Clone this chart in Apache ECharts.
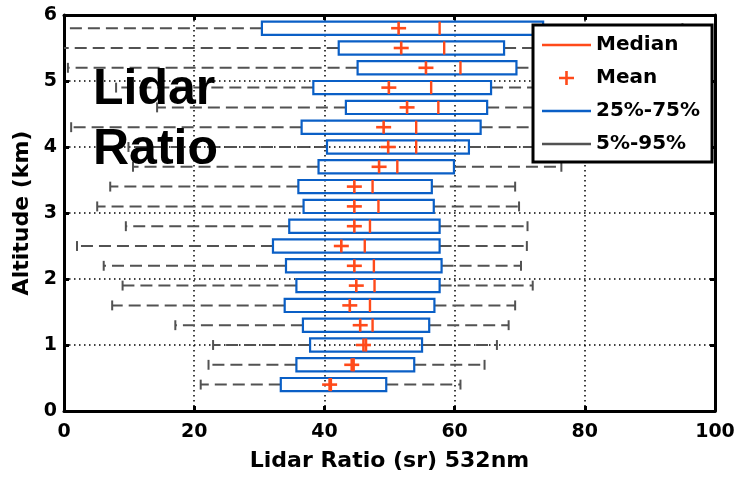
<!DOCTYPE html>
<html>
<head>
<meta charset="utf-8">
<script src="https://cdn.jsdelivr.net/npm/echarts@6/dist/echarts.min.js"></script>
<style>
  html, body { margin: 0; padding: 0; background: #fff; }
  #chart { width: 738px; height: 477px; }
</style>
</head>
<body>
<div id="chart"></div>
<script>
// Altitude bins (km) and lidar-ratio statistics (sr) per bin
const altitude = [0.4, 0.7, 1.0, 1.3, 1.6, 1.9, 2.2, 2.5, 2.8, 3.1, 3.4, 3.7, 4.0, 4.3, 4.6, 4.9, 5.2, 5.5, 5.8];
const p5     = [21.0, 22.2, 22.9, 17.1, 7.4, 9.0, 6.1, 2.0, 9.5, 5.1, 7.1, 10.6, 9.9, 1.1, 14.3, 8.0, 0.6, -2.0, -3.0];
const p25    = [33.3, 35.7, 37.8, 36.7, 33.9, 35.7, 34.1, 32.1, 34.6, 36.8, 36.0, 39.1, 40.4, 36.5, 43.3, 38.3, 45.1, 42.2, 30.4];
const median = [41.0, 44.5, 46.4, 47.4, 47.0, 47.7, 47.6, 46.2, 47.0, 48.3, 47.4, 51.2, 54.1, 54.1, 57.5, 56.4, 60.9, 58.4, 57.7];
const mean   = [40.8, 44.2, 46.0, 45.5, 43.9, 44.9, 44.6, 42.6, 44.6, 44.6, 44.6, 48.4, 49.8, 49.1, 52.7, 49.9, 55.6, 51.8, 51.4];
const p75    = [49.5, 53.8, 55.0, 56.1, 56.9, 57.7, 58.0, 57.7, 57.7, 56.8, 56.5, 59.9, 62.2, 64.0, 65.0, 65.6, 69.5, 67.6, 73.6];
const p95    = [60.9, 64.6, 66.5, 68.3, 69.3, 72.0, 70.2, 71.1, 71.2, 69.9, 69.3, 76.4, 80.0, 84.0, 86.0, 88.0, 90.0, 92.0, 95.0];

const xTicks = { min: 0, max: 100, interval: 20 };
const yTicks = { min: 0, max: 6, interval: 1 };

const RED = '#ff4a1a';
const BLUE = '#0a5fc6';
const GRAY = '#525252';
const AXIS_FONT = '"DejaVu Sans", sans-serif';
const BOX_H = 0.2;   // box thickness in km
const CAP_H = 0.15;  // whisker cap length in km

const chart = echarts.init(document.getElementById('chart'), null, { renderer: 'canvas' });

// Dashed 5%-95% whiskers with end caps, clipped to the plot area
function renderWhiskers(params, api) {
  const y = api.value(0);
  const cs = params.coordSys;
  const lo = api.coord([api.value(1), y]);
  const q1 = api.coord([api.value(2), y]);
  const q3 = api.coord([api.value(3), y]);
  const hi = api.coord([api.value(4), y]);
  const capH = api.size([0, CAP_H])[1];
  const dash = { stroke: GRAY, lineWidth: 2, lineDash: [12, 6] };
  const solid = { stroke: GRAY, lineWidth: 2 };
  const left = Math.max(lo[0], cs.x);
  const right = Math.min(hi[0], cs.x + cs.width);
  const kids = [
    { type: 'line', shape: { x1: q1[0], y1: q1[1], x2: left, y2: q1[1] }, style: dash },
    { type: 'line', shape: { x1: q3[0], y1: q3[1], x2: right, y2: q3[1] }, style: dash }
  ];
  if (lo[0] >= cs.x) kids.push({ type: 'line', shape: { x1: lo[0], y1: lo[1] - capH / 2, x2: lo[0], y2: lo[1] + capH / 2 }, style: solid });
  if (hi[0] <= cs.x + cs.width) kids.push({ type: 'line', shape: { x1: hi[0], y1: hi[1] - capH / 2, x2: hi[0], y2: hi[1] + capH / 2 }, style: solid });
  return { type: 'group', children: kids };
}

// 25%-75% interquartile boxes (outline only)
function renderBoxes(params, api) {
  const y = api.value(0);
  const a = api.coord([api.value(1), y]);
  const b = api.coord([api.value(2), y]);
  const h = api.size([0, BOX_H])[1];
  return {
    type: 'rect',
    shape: { x: a[0], y: a[1] - h / 2, width: b[0] - a[0], height: h },
    style: { fill: 'none', stroke: BLUE, lineWidth: 2.2 }
  };
}

// Median ticks across each box
function renderMedians(params, api) {
  const y = api.value(0);
  const p = api.coord([api.value(1), y]);
  const h = api.size([0, BOX_H])[1];
  return {
    type: 'line',
    shape: { x1: p[0], y1: p[1] - h / 2, x2: p[0], y2: p[1] + h / 2 },
    style: { stroke: RED, lineWidth: 2.4 }
  };
}

// Mean markers drawn as plus signs
function renderMeans(params, api) {
  const p = api.coord([api.value(1), api.value(0)]);
  const hw = 7.5, hh = 6.5;
  const st = { stroke: RED, lineWidth: 2.6 };
  return {
    type: 'group',
    children: [
      { type: 'line', shape: { x1: p[0] - hw, y1: p[1], x2: p[0] + hw, y2: p[1] }, style: st },
      { type: 'line', shape: { x1: p[0], y1: p[1] - hh, x2: p[0], y2: p[1] + hh }, style: st }
    ]
  };
}

const whiskerData = altitude.map((a, i) => [a, p5[i], p25[i], p75[i], p95[i]]);
const boxData = altitude.map((a, i) => [a, p25[i], p75[i]]);
const medianData = altitude.map((a, i) => [a, median[i]]);
const meanData = altitude.map((a, i) => [a, mean[i]]);

const axisLine = { show: true, onZero: false, lineStyle: { color: '#000', width: 3 } };
const axisTick = { show: true, inside: true, length: 5, lineStyle: { color: '#000', width: 3 } };
const labelStyle = { color: '#000', fontFamily: AXIS_FONT, fontWeight: 'bold', fontSize: 19 };
const gridLine = { show: true, lineStyle: { color: '#000', width: 1.5, type: [1.5, 3.5] } };
const nameStyle = { color: '#000', fontFamily: AXIS_FONT, fontWeight: 'bold', fontSize: 22 };

const LINE_ICON = 'path://M0,0H49V2.6H0Z';
const PLUS_ICON = 'path://M6.2,0H8.8V5.7H15V8.3H8.8V14H6.2V8.3H0V5.7H6.2Z';

chart.setOption({
  backgroundColor: '#fff',
  animation: false,
  grid: { left: 64, right: 23, top: 15, bottom: 63, containLabel: false },
  xAxis: [
    {
      type: 'value', position: 'bottom', ...xTicks,
      axisLine, axisTick,
      axisLabel: { ...labelStyle, margin: 12 },
      splitLine: gridLine,
      name: 'Lidar Ratio (sr) 532nm', nameLocation: 'middle', nameGap: 39, nameTextStyle: nameStyle
    },
    {
      type: 'value', position: 'top', ...xTicks,
      axisLine, axisTick, axisLabel: { show: false }, splitLine: { show: false }
    }
  ],
  yAxis: [
    {
      type: 'value', position: 'left', ...yTicks,
      axisLine, axisTick,
      axisLabel: { ...labelStyle, margin: 7 },
      splitLine: gridLine,
      name: 'Altitude (km)', nameLocation: 'middle', nameGap: 24, nameRotate: 90, nameTextStyle: nameStyle
    },
    {
      type: 'value', position: 'right', ...yTicks,
      axisLine, axisTick, axisLabel: { show: false }, splitLine: { show: false }
    }
  ],
  legend: {
    show: true,
    orient: 'vertical',
    left: 533, top: 25,
    padding: [10, 12, 8, 9],
    itemWidth: 49, itemHeight: 14, itemGap: 13,
    backgroundColor: '#fff',
    borderColor: '#000', borderWidth: 3,
    selectedMode: false,
    textStyle: { color: '#000', fontFamily: AXIS_FONT, fontWeight: 'bold', fontSize: 20 },
    data: [
      { name: 'Median', icon: LINE_ICON, itemStyle: { color: RED } },
      { name: 'Mean', icon: PLUS_ICON, itemStyle: { color: RED } },
      { name: '25%-75%', icon: LINE_ICON, itemStyle: { color: BLUE } },
      { name: '5%-95%', icon: LINE_ICON, itemStyle: { color: GRAY } }
    ]
  },
  graphic: [
    { type: 'text', left: 93, top: 65, z: 10, style: { text: 'Lidar', font: 'bold 50px "Liberation Sans", Arial, sans-serif', fill: '#000' } },
    { type: 'text', left: 93, top: 125, z: 10, style: { text: 'Ratio', font: 'bold 50px "Liberation Sans", Arial, sans-serif', fill: '#000' } }
  ],
  series: [
    {
      name: '5%-95%', type: 'custom', renderItem: renderWhiskers, data: whiskerData,
      encode: { y: 0, x: [1, 2, 3, 4] }, itemStyle: { color: GRAY }, z: 2
    },
    {
      name: '25%-75%', type: 'custom', renderItem: renderBoxes, data: boxData,
      encode: { y: 0, x: [1, 2] }, itemStyle: { color: BLUE }, z: 3
    },
    {
      name: 'Median', type: 'custom', renderItem: renderMedians, data: medianData,
      encode: { y: 0, x: 1 }, itemStyle: { color: RED }, z: 4
    },
    {
      name: 'Mean', type: 'custom', renderItem: renderMeans, data: meanData,
      encode: { y: 0, x: 1 }, itemStyle: { color: RED }, z: 4
    }
  ]
});
</script>
</body>
</html>
